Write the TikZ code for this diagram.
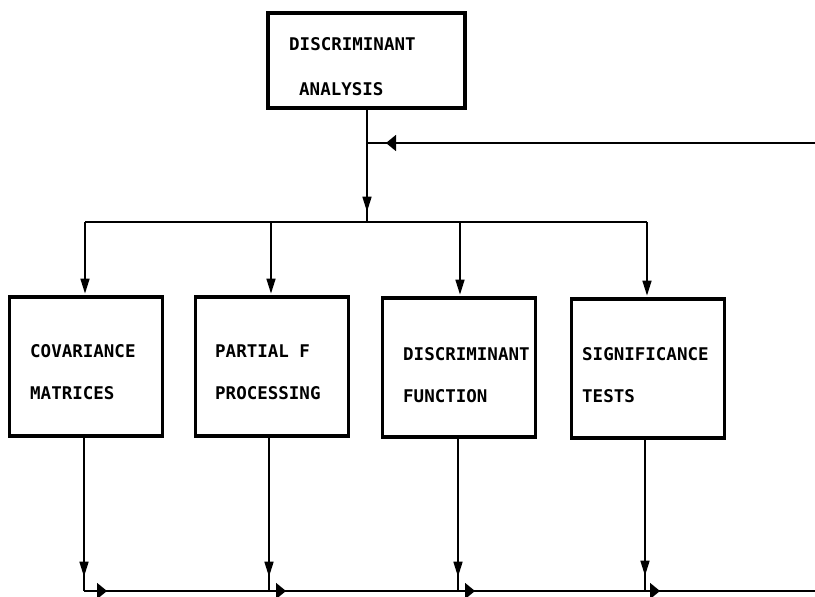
\documentclass[tikz,border=0pt]{standalone}
\usepackage{fontspec}
\newfontfamily\dotfont{DejaVu Sans Mono}
\usetikzlibrary{arrows.meta,decorations.markings,calc}
\begin{document}
\begin{tikzpicture}[x=1pt,y=-1pt,
  box/.style={draw,line width=3.4pt,rectangle,inner sep=0pt,minimum width=153pt,minimum height=139pt},
  topbox/.style={draw,line width=3.4pt,rectangle,inner sep=0pt,minimum width=197pt,minimum height=95pt},
  txt/.style={font=\dotfont\bfseries\fontsize{17.5}{20}\selectfont,inner sep=0pt,anchor=base west},
  conn/.style={line width=1.5pt},
  vtip/.style={-{Triangle[length=15pt,width=9pt]},shorten >=1.7pt},
  varrow/.style={postaction={decorate},decoration={markings,mark=at position #1 with {\arrow{Triangle[length=15pt,width=9pt]}}}},
  harrow/.style={postaction={decorate},decoration={markings,mark=at position #1 with {\arrow{Triangle[length=10pt,width=16pt]}}}}
]
\useasboundingbox (0,0) rectangle (815,597);

% boxes
\node[topbox] (top) at (366.5,60.5) {};
\node[box] (b1) at (86,366.5) {};
\node[box] (b2) at (272,366.5) {};
\node[box] (b3) at (459,367.5) {};
\node[box] (b4) at (648,368.5) {};

% texts
\node[txt] (t0a) at (289,50) {DISCRIMINANT};
\node[txt] (t0b) at (299,95) {ANALYSIS};
\node[txt] (t1a) at (30,357) {COVARIANCE};
\node[txt] (t1b) at (30,399) {MATRICES};
\node[txt] (t2a) at (215,357) {PARTIAL F};
\node[txt] (t2b) at (215,399) {PROCESSING};
\node[txt] (t3a) at (403,360) {DISCRIMINANT};
\node[txt] (t3b) at (403,402) {FUNCTION};
\node[txt] (t4a) at (582,360) {SIGNIFICANCE};
\node[txt] (t4b) at (582,402) {TESTS};

% coordinates
\coordinate (J1) at (367,143);
\coordinate (J2) at (367,222);
\coordinate (F) at (815,143);
\coordinate (D1) at (85,222);
\coordinate (D2) at (271,222);
\coordinate (D3) at (460,222);
\coordinate (D4) at (647,222);
\coordinate (U1) at (84,591);
\coordinate (U2) at (269,591);
\coordinate (U3) at (458,591);
\coordinate (U4) at (645,591);
\coordinate (UE) at (815,591);

% top connectors
\draw[conn,harrow=429pt] (F) -- (J1);
\draw[conn,varrow=102pt] (top.south -| J1) -- (J2);
\draw[conn] (D1) -- (D4);
\draw[conn,vtip] (D1) -- (D1 |- b1.north);
\draw[conn,vtip] (D2) -- (D2 |- b2.north);
\draw[conn,vtip] (D3) -- (D3 |- b3.north);
\draw[conn,vtip] (D4) -- (D4 |- b4.north);

% bottom connectors
\draw[conn,varrow=139pt] (U1 |- b1.south) -- (U1);
\draw[conn,varrow=139pt] (U2 |- b2.south) -- (U2);
\draw[conn,varrow=138pt] (U3 |- b3.south) -- (U3);
\draw[conn,varrow=136pt] (U4 |- b4.south) -- (U4);
\draw[conn,harrow=23pt] (U1) -- (U2);
\draw[conn,harrow=17pt] (U2) -- (U3);
\draw[conn,harrow=17pt] (U3) -- (U4);
\draw[conn,harrow=15pt] (U4) -- (UE);
\end{tikzpicture}
\end{document}
